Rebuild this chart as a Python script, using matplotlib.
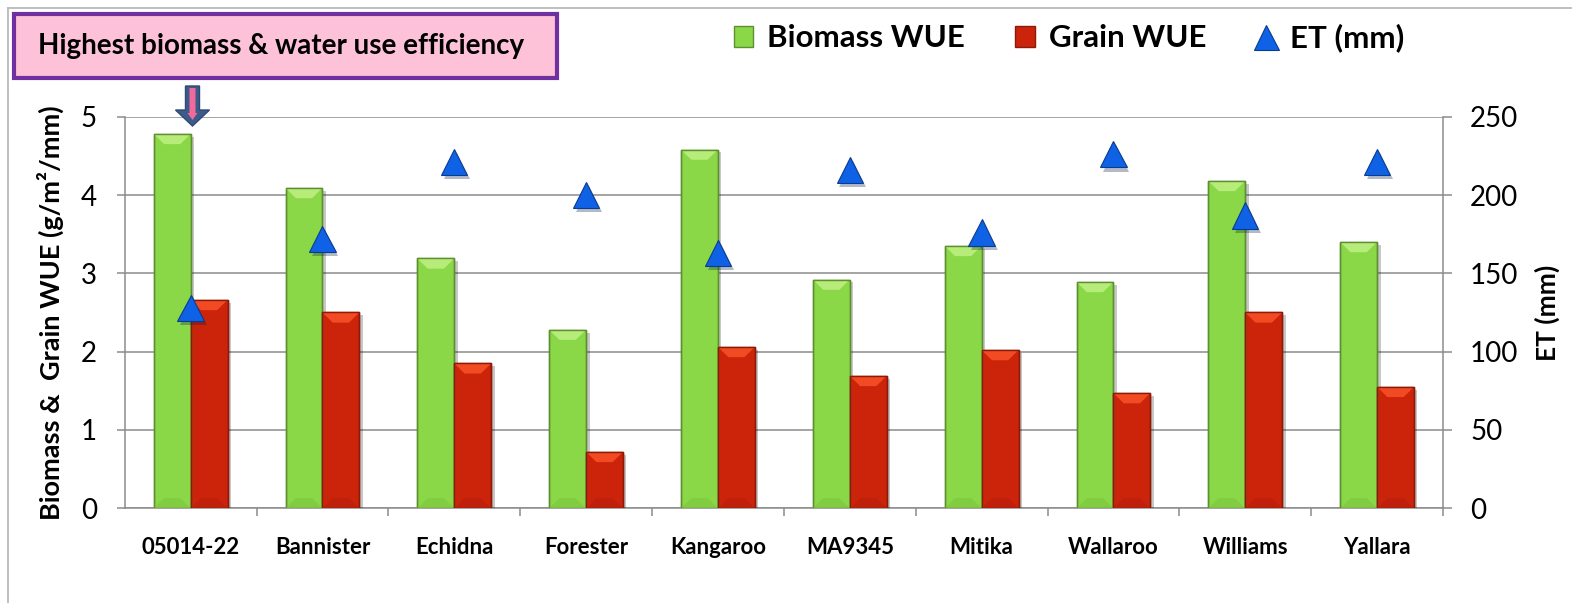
import matplotlib
matplotlib.use("Agg")
import matplotlib.pyplot as plt
from matplotlib.patches import Rectangle, Polygon, Patch
from matplotlib.lines import Line2D
import matplotlib.patheffects as pe

plt.rcParams["font.family"] = ["Lato", "DejaVu Sans"]

# data
CULTIVARS = ["05014-22", "Bannister", "Echidna", "Forester", "Kangaroo",
             "MA9345", "Mitika", "Wallaroo", "Williams", "Yallara"]
BIOMASS_WUE = [4.78, 4.09, 3.19, 2.28, 4.58, 2.92, 3.35, 2.89, 4.18, 3.40]
GRAIN_WUE = [2.66, 2.50, 1.85, 0.72, 2.06, 1.69, 2.02, 1.47, 2.50, 1.55]
ET_MM = [128, 172, 221, 200, 163, 216, 176, 226, 187, 221]

GREEN, GREEN_EDGE, GREEN_TOP, GREEN_BOT = "#8ad847", "#5d8f32", "#b8ec7a", "#82cc42"
RED, RED_EDGE, RED_TOP, RED_BOT = "#cc230b", "#8c1a08", "#f24a22", "#c0200a"
BLUE, BLUE_EDGE = "#0f62e6", "#0a3c8c"
GRID = "#8c8c8c"

W, H = 1572, 603
fig = plt.figure(figsize=(W / 100, H / 100), dpi=100)

# light outer chart frame
fig.add_artist(Line2D([8 / W, 1], [1 - 8 / H, 1 - 8 / H], color="#b4b4b4", lw=1.2))
fig.add_artist(Line2D([8 / W, 8 / W], [0, 1 - 8 / H], color="#b4b4b4", lw=1.2))

ax = fig.add_axes([124.7 / W, 94.7 / H, (1443 - 124.7) / W, (508.3 - 116.7) / H])
ax2 = ax.twinx()

x = list(range(len(CULTIVARS)))
bw = 0.28
shadow = [pe.withSimplePatchShadow(offset=(2.5, -2), shadow_rgbFace="k", alpha=0.22)]


def bevel_bars(xs, vals, face, edge, top, bot):
    bars = ax.bar(xs, vals, width=bw, color=face, edgecolor=edge, lw=1.0, zorder=3)
    for b in bars:
        b.set_path_effects(shadow)
        x0, x1 = b.get_x(), b.get_x() + b.get_width()
        y1 = b.get_height()
        d, h = 0.28 * bw, 0.13
        ax.add_patch(Polygon([(x0, y1), (x1, y1), (x1 - d, y1 - h), (x0 + d, y1 - h)],
                             closed=True, fc=top, ec="none", zorder=4))
        ax.add_patch(Polygon([(x0, 0), (x1, 0), (x1 - d, h), (x0 + d, h)],
                             closed=True, fc=bot, ec="none", zorder=4))
        ax.add_patch(Rectangle((x0, 0), x1 - x0, y1, fc="none", ec=edge, lw=1.0, zorder=5))
    return bars


bevel_bars([i - 0.14 for i in x], BIOMASS_WUE, GREEN, GREEN_EDGE, GREEN_TOP, GREEN_BOT)
bevel_bars([i + 0.14 for i in x], GRAIN_WUE, RED, RED_EDGE, RED_TOP, RED_BOT)

ax2.plot(x, ET_MM, ls="none", marker="^", ms=19, mfc=BLUE, mec=BLUE_EDGE, mew=0.8,
         zorder=6, path_effects=[pe.withSimplePatchShadow(offset=(2, -3), alpha=0.3)])
ax2.set_zorder(ax.get_zorder() + 1)

ax.set_xlim(-0.5, len(CULTIVARS) - 0.5)
ax.set_ylim(0, 5)
ax2.set_ylim(0, 250)
ax.set_yticks(range(0, 6))
ax2.set_yticks(range(0, 251, 50))
ax.grid(True, axis="y", color=GRID, lw=1.1, zorder=0)
ax.set_axisbelow(True)

ax.set_xticks(x)
ax.set_xticklabels(CULTIVARS, fontsize=16, fontweight="bold")
ax.set_xticks([i + 0.5 for i in x], minor=True)
ax.tick_params(axis="x", which="major", length=0, pad=21)
ax.tick_params(axis="x", which="minor", length=6, width=1.1, color=GRID)
ax.tick_params(axis="y", length=6, width=1.1, color=GRID, labelsize=20, pad=14)
ax2.tick_params(axis="y", length=6.5, width=1.1, color=GRID, labelsize=20, pad=13)

for a in (ax, ax2):
    for s in a.spines.values():
        s.set_visible(False)
ax.spines["left"].set_visible(True)
ax.spines["bottom"].set_visible(True)
ax2.spines["right"].set_visible(True)
for s in (ax.spines["left"], ax.spines["bottom"], ax2.spines["right"]):
    s.set_color(GRID)
    s.set_linewidth(1.1)

ax.set_ylabel("Biomass &  Grain WUE (g/m²/mm)", fontsize=19.5,
              fontweight="bold", labelpad=12)
ax2.set_ylabel("ET (mm)", fontsize=19, fontweight="bold", labelpad=12)

# legend
handles = [Patch(fc=GREEN, ec=GREEN_EDGE), Patch(fc=RED, ec=RED_EDGE),
           Line2D([], [], ls="none", marker="^", ms=18, mfc=BLUE, mec=BLUE_EDGE, mew=0.8)]
fig.legend(handles, ["Biomass WUE", "Grain WUE", "ET (mm)"], loc="center left",
           bbox_to_anchor=(734 / W, 1 - 38 / H), ncol=3, frameon=False,
           prop=dict(size=22.5, weight="bold"), handlelength=0.62, handleheight=0.62,
           handletextpad=0.45, columnspacing=1.6, borderpad=0, borderaxespad=0)

# highlight box
fig.add_artist(Rectangle((14.5 / W, 1 - 77.7 / H), (557 - 14.5) / W, (77.7 - 14) / H,
                         transform=fig.transFigure, fc="#fdc2d7", ec="#7030a0", lw=3))
fig.text(38 / W, 1 - 46 / H, "Highest biomass & water use efficiency", fontsize=20,
         fontweight="bold", va="center", ha="left")

# down arrow over the top cultivar
cx = 192.5
arrow_pts = [(cx - 7, 86), (cx + 7, 86), (cx + 7, 110), (cx + 17, 110), (cx, 126),
             (cx - 17, 110), (cx - 7, 110)]
fig.add_artist(Polygon([(px / W, 1 - py / H) for px, py in arrow_pts], closed=True,
                       transform=fig.transFigure, fc="#3d5b8a", ec="#2f4a73", lw=1))
inner = [(cx - 3, 88), (cx + 3, 88), (cx + 3, 113), (cx + 5, 113), (cx, 120),
         (cx - 5, 113), (cx - 3, 113)]
fig.add_artist(Polygon([(px / W, 1 - py / H) for px, py in inner], closed=True,
                       transform=fig.transFigure, fc="#f06a9c", ec="none"))

fig.savefig("out.png", dpi=100)
